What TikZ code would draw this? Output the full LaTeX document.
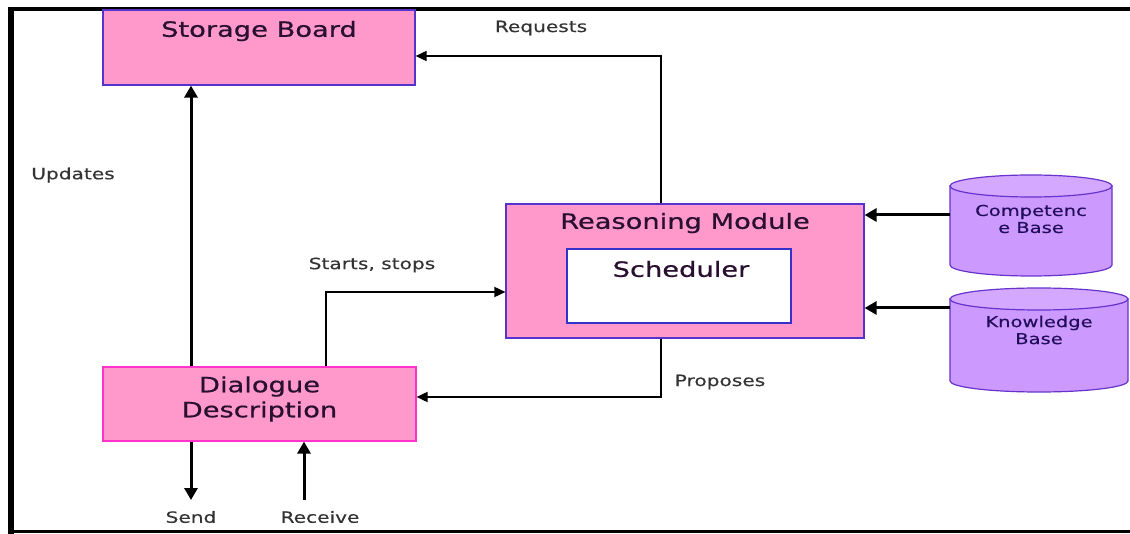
\documentclass[tikz,border=0pt]{standalone}
\usepackage{fontspec}
\setmainfont{DejaVu Sans}
\newfontfamily\handfont[FakeStretch=1.3,FakeBold=0.6]{DejaVu Sans}
\newfontfamily\labelfont[FakeStretch=1.3,FakeBold=0.3]{DejaVu Sans}
\usetikzlibrary{arrows.meta}
\definecolor{boxpink}{HTML}{FF99CC}
\definecolor{boxedge}{HTML}{5533CC}
\definecolor{dlgedge}{HTML}{FF33CC}
\definecolor{schededge}{HTML}{3333CC}
\definecolor{cylfill}{HTML}{CC99FF}
\definecolor{cyltop}{HTML}{D4A8FF}
\definecolor{cyledge}{HTML}{6633CC}
\definecolor{titleink}{HTML}{2A1030}
\definecolor{labelink}{HTML}{333333}
\tikzset{
  module/.style={draw=boxedge, fill=boxpink, line width=1.2pt, inner sep=0pt},
  title/.style={font=\handfont\fontsize{21}{25}\selectfont, text=titleink, align=center, inner sep=0pt},
  flowlabel/.style={font=\labelfont\fontsize{15.5}{18}\selectfont, text=labelink, inner sep=0pt},
  cyltext/.style={font=\labelfont\fontsize{15}{17}\selectfont, text=titleink!80!blue, align=center, inner sep=0pt},
  cylbody/.style={fill=cylfill, draw=cyledge, line width=1.2pt},
  thinarrow/.style={draw=black, line width=1.8pt, -{Triangle[length=11pt,width=10pt]}},
  thickarrow/.style={draw=black, line width=3pt, -{Triangle[length=12pt,width=13pt]}}
}
\begin{document}
\begin{tikzpicture}[x=1pt,y=-1pt]
\useasboundingbox (0,0) rectangle (1130,534);
\fill[white] (0,0) rectangle (1130,534);

% frame
\fill[black] (8,7) rectangle (14,534);
\fill[black] (8,7) rectangle (1130,11);
\fill[black] (8,530) rectangle (1130,533);

% modules
\node[module, minimum width=312pt, minimum height=75pt] (storage) at (259,47.5) {};
\node[title] (storagetxt) at (259,31) {Storage Board};

\node[module, minimum width=358pt, minimum height=134pt] (reason) at (685,271) {};
\node[title] (reasontxt) at (685,223) {Reasoning Module};
\node[draw=schededge, fill=white, line width=1.2pt, minimum width=224pt, minimum height=74pt, inner sep=0pt] (sched) at (679,286) {};
\node[title] (schedtxt) at (681,269) {Scheduler};

\node[module, draw=dlgedge, minimum width=313pt, minimum height=74pt] (dialog) at (259.5,404) {};
\node[title] (dialogtxt) at (259.5,399) {Dialogue\\Description};

% knowledge stores
\path[cylbody] (950,186) -- (950,265) arc[start angle=180, end angle=360, x radius=81pt, y radius=11pt] -- (1112,186) -- cycle;
\path[cylbody, fill=cyltop] (1031,186) ellipse [x radius=81pt, y radius=11pt];
\node[cyltext] (comp) at (1031,219) {Competenc\\e Base};
\coordinate (compedge) at (950,215);

\path[cylbody] (950,299) -- (950,381) arc[start angle=180, end angle=360, x radius=89pt, y radius=11pt] -- (1128,299) -- cycle;
\path[cylbody, fill=cyltop] (1039,299) ellipse [x radius=89pt, y radius=11pt];
\node[cyltext] (know) at (1039,330) {Knowledge\\Base};
\coordinate (knowedge) at (950,308);

% flows
\draw[thinarrow] ([xshift=-24pt]reason.north) |- ([yshift=-8.5pt]storage.east);
\node[flowlabel] (requests) at (541,28) {Requests};

\draw[thickarrow] ([xshift=-68.5pt]dialog.north) -- ([xshift=-68pt]storage.south);
\node[flowlabel] (updates) at (73,175) {Updates};

\draw[thinarrow] ([xshift=66.5pt]dialog.north) |- ([yshift=-21pt]reason.west);
\node[flowlabel] (starts) at (372,265) {Starts, stops};

\draw[thinarrow] ([xshift=-24pt]reason.south) |- ([yshift=7pt]dialog.east);
\node[flowlabel] (proposes) at (720,382) {Proposes};

\draw[thickarrow] (compedge) -- ([yshift=56pt]reason.east);
\draw[thickarrow] (knowedge) -- ([yshift=-37pt]reason.east);

\coordinate (sendend) at (191,500);
\coordinate (recvstart) at (304,500);
\draw[thickarrow] ([xshift=-68.5pt]dialog.south) -- (sendend);
\draw[thickarrow] (recvstart) -- ([xshift=44.5pt]dialog.south);
\node[flowlabel] (send) at (191,517) {Send};
\node[flowlabel] (receive) at (320,517) {Receive};
\end{tikzpicture}
\end{document}
